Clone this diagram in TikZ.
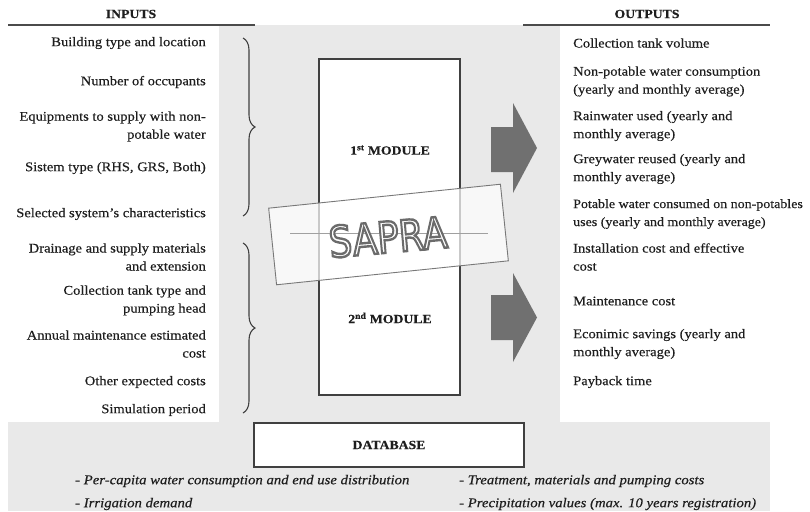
\documentclass[tikz,border=0pt]{standalone}
\usepackage{fontspec}
\setmainfont{Liberation Serif}[FakeStretch=1.1,FakeBold=0.4]
\newfontfamily\sapfont{DejaVu Sans}
\usetikzlibrary{decorations.pathreplacing}
\definecolor{bggrey}{RGB}{233,233,233}
\definecolor{inkc}{RGB}{30,30,30}
\definecolor{arrowc}{RGB}{112,112,112}
\definecolor{bandline}{RGB}{120,120,120}
\newcommand{\outlinetext}[1]{\special{pdf:literal direct 2 Tr 2.4 w 0.42 0.42 0.42 RG}#1\special{pdf:literal direct 0 Tr}}
\tikzset{
  inp/.style={anchor=east,align=right,inner sep=0pt,text=inkc,font=\fontsize{13.2}{18}\selectfont},
  outp/.style={anchor=west,align=left,inner sep=0pt,text=inkc,font=\fontsize{13.2}{18}\selectfont},
  hdr/.style={inner sep=0pt,text=inkc,font=\fontsize{12.5}{15}\selectfont\bfseries},
  modtxt/.style={inner sep=0pt,text=inkc,font=\fontsize{12.5}{15}\selectfont\bfseries},
  dbnote/.style={anchor=west,inner sep=0pt,text=inkc,font=\fontsize{13.4}{15}\selectfont\itshape},
  rule/.style={draw=inkc!80,line width=1.2pt},
  bracestyle/.style={draw=inkc!85,line width=1.1pt,decorate,decoration={brace,amplitude=12pt,aspect=0.5}},
  bigarrow/.style={fill=arrowc},
  boxstyle/.style={draw=inkc!85,line width=1.1pt,fill=white}
}
\begin{document}
\begin{tikzpicture}[x=1pt,y=-1pt]
\useasboundingbox (0,0) rectangle (810,511);
% grey backgrounds
\fill[bggrey] (219,25) rectangle (560,422);
\fill[bggrey] (8,422) rectangle (770,511);
% headers
\node[hdr] (hin) at (131,14) {INPUTS};
\node[hdr] (hout) at (647,14) {OUTPUTS};
\draw[rule] (8,25) -- (255,25);
\draw[rule] (523,25) -- (770,25);
% inputs
\node[inp] (i1) at (206,43) {Building type and location};
\node[inp] (i2) at (206,82) {Number of occupants};
\node[inp] (i3) at (206,126.5) {Equipments to supply with non-\\potable water};
\node[inp] (i4) at (206,168) {Sistem type (RHS, GRS, Both)};
\node[inp] (i5) at (206,214) {Selected system's characteristics};
\node[inp] (i6) at (206,257) {Drainage and supply materials\\and extension};
\node[inp] (i7) at (206,300.5) {Collection tank type and\\pumping head};
\node[inp] (i8) at (206,344) {Annual maintenance estimated\\cost};
\node[inp] (i9) at (206,382) {Other expected costs};
\node[inp] (i10) at (206,410) {Simulation period};
% braces
\coordinate (b1t) at (243,38);
\coordinate (b1b) at (243,216);
\coordinate (b2t) at (243,243);
\coordinate (b2b) at (243,413);
\draw[bracestyle] (b1t) -- (b1b);
\draw[bracestyle] (b2t) -- (b2b);
% module box
\node[boxstyle,minimum width=141pt,minimum height=336pt,inner sep=0pt] (mod) at (389.5,227) {};
\node[modtxt] (m1) at (390,150) {1\textsuperscript{st} MODULE};
\node[modtxt] (m2) at (390,318) {2\textsuperscript{nd} MODULE};
% arrows
\fill[bigarrow] (491,127) -- (513,127) -- (513,103) -- (537,148) -- (513,193) -- (513,172) -- (491,172) -- cycle;
\fill[bigarrow] (491,295) -- (513,295) -- (513,273) -- (537,317.5) -- (513,362) -- (513,340) -- (491,340) -- cycle;
% SAPRA band
\node[draw=bandline,line width=0.9pt,fill=white,fill opacity=0.72,rotate=5.9,minimum width=233pt,minimum height=77pt,inner sep=0pt] (band) at (388.5,234.5) {};
\draw[bandline!70,line width=0.6pt] (290,233) -- (488,233);
\node[inner sep=0pt,rotate=5,xscale=0.84,text=white,font=\sapfont\fontsize{43}{43}\selectfont] (sap) at (388,237) {\outlinetext{SAPRA}};
% outputs
\node[outp] (o1) at (573,43) {Collection tank volume};
\node[outp] (o2) at (573,81.5) {Non-potable water consumption\\(yearly and monthly average)};
\node[outp] (o3) at (573,126) {Rainwater used (yearly and\\monthly average)};
\node[outp] (o4) at (573,169) {Greywater reused (yearly and\\monthly average)};
\node[outp,font=\fontsize{12.7}{18}\selectfont] (o5) at (573,214) {Potable water consumed on non-potables\\uses (yearly and monthly average)};
\node[outp] (o6) at (573,257) {Installation cost and effective\\cost};
\node[outp] (o7) at (573,301) {Maintenance cost};
\node[outp] (o8) at (573,344) {Econimic savings (yearly and\\monthly average)};
\node[outp] (o9) at (573,382) {Payback time};
% database
\node[boxstyle,minimum width=270pt,minimum height=44pt,inner sep=0pt,font=\fontsize{12.5}{15}\selectfont\bfseries,text=inkc] (db) at (389,445) {DATABASE};
\node[dbnote] (d1) at (75,481) {- Per-capita water consumption and end use distribution};
\node[dbnote] (d2) at (75,504) {- Irrigation demand};
\node[dbnote] (d3) at (459,481) {- Treatment, materials and pumping costs};
\node[dbnote] (d4) at (459,504) {- Precipitation values (max. 10 years registration)};
\end{tikzpicture}
\end{document}
